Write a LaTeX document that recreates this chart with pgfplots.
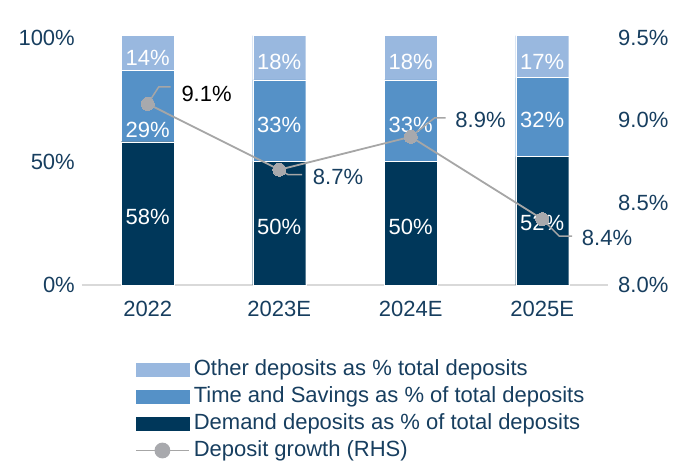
\documentclass[border=0pt]{standalone}
\usepackage{pgfplots}
\pgfplotsset{compat=1.18}
\usepackage{fontspec}
\setmainfont{Liberation Sans}

\definecolor{demand}{HTML}{00375A}
\definecolor{timesav}{HTML}{5591C7}
\definecolor{otherdep}{HTML}{99B8DF}
\definecolor{growth}{HTML}{A6A6A6}
\definecolor{growthmark}{HTML}{A8A9AD}
\definecolor{navy}{HTML}{173E5F}
\definecolor{axisgray}{HTML}{D9D9D9}

\newcommand{\chartfont}{\fontsize{22}{26}\selectfont}

\pgfplotsset{
  chartbase/.style={
    scale only axis, width=526pt, height=247pt,
    xmin=-0.5, xmax=3.5,
    axis line style={draw=none},
    major tick length=0pt, minor tick num=0,
    tick label style={font=\chartfont, text=navy, inner sep=0pt},
    /pgf/number format/assume math mode=true,
    clip=false,
  },
}
\tikzset{
  barlabel/.style={text=white, font=\chartfont, inner sep=0pt},
  linelabel/.style={font=\chartfont, text=navy, inner sep=0pt},
}

\begin{document}
\begin{tikzpicture}
\useasboundingbox (-82pt,-180pt) rectangle (607pt,285pt);

% stacked shares of total deposits (left axis)
\begin{axis}[chartbase,
  ybar stacked, bar width=53pt,
  ymin=0, ymax=100,
  xtick={0,1,2,3}, xticklabels={2022,2023E,2024E,2025E},
  xticklabel style={anchor=north, yshift=-16pt},
  ytick={0,50,100}, yticklabels={0\%,50\%,100\%},
  ytick pos=left,
  yticklabel style={anchor=east, xshift=-7pt},
]
\addplot[fill=demand, draw=white, line width=0.4pt]
  coordinates {(0,58) (1,50) (2,50) (3,52)};
\addplot[fill=timesav, draw=white, line width=0.4pt]
  coordinates {(0,29) (1,33) (2,33) (3,32)};
\addplot[fill=otherdep, draw=white, line width=0.4pt]
  coordinates {(0,14) (1,18) (2,18) (3,17)};

\draw[axisgray, line width=1.5pt] (axis cs:-0.5,0) -- (axis cs:3.5,0);
\end{axis}

% share labels inside the bar segments (same scale as the left axis)
\begin{axis}[chartbase, ymin=0, ymax=100, hide axis]
\node[barlabel] at (axis cs:0,27.5) {58\%};
\node[barlabel] at (axis cs:0,62.8) {29\%};
\node[barlabel] at (axis cs:0,92)   {14\%};
\node[barlabel] at (axis cs:1,23.5) {50\%};
\node[barlabel] at (axis cs:1,65)   {33\%};
\node[barlabel] at (axis cs:1,90.5) {18\%};
\node[barlabel] at (axis cs:2,23.5) {50\%};
\node[barlabel] at (axis cs:2,65)   {33\%};
\node[barlabel] at (axis cs:2,90.5) {18\%};
\node[barlabel] at (axis cs:3,25)   {52\%};
\node[barlabel] at (axis cs:3,67)   {32\%};
\node[barlabel] at (axis cs:3,90.5) {17\%};
\end{axis}

% deposit growth (right axis)
\begin{axis}[chartbase,
  ymin=8, ymax=9.5,
  xtick=\empty,
  ytick={8,8.5,9,9.5}, yticklabels={8.0\%,8.5\%,9.0\%,9.5\%},
  ytick pos=right, yticklabel pos=right,
  yticklabel style={anchor=west, xshift=10pt},
  legend cell align=left,
  legend style={
    at={(axis description cs:0.1008,-0.2996)}, anchor=north west,
    draw=none, fill=none, inner sep=0pt, outer sep=0pt,
    row sep=6pt, column sep=4pt,
    font=\chartfont, text=navy,
    nodes={inner sep=0pt, text height=16pt, text depth=5pt},
  },
]
\addlegendimage{legend image code/.code={\fill[otherdep] (0pt,-6.5pt) rectangle (53pt,6.5pt);}}
\addlegendentry{Other deposits as \% total deposits}
\addlegendimage{legend image code/.code={\fill[timesav] (0pt,-6.5pt) rectangle (53pt,6.5pt);}}
\addlegendentry{Time and Savings as \% of total deposits}
\addlegendimage{legend image code/.code={\fill[demand] (0pt,-6.5pt) rectangle (53pt,6.5pt);}}
\addlegendentry{Demand deposits as \% of total deposits}

% leader lines to the value labels
\draw[growth, line width=1.5pt] (axis cs:0,9.1) -- ++(11pt,17pt) -- ++(12pt,0pt)
  node[linelabel, anchor=north west, xshift=10pt, yshift=1pt, text=black] {9.1\%};
\draw[growth, line width=1.5pt] (axis cs:1,8.7) -- ++(9pt,-5pt) -- ++(14pt,0pt)
  node[linelabel, anchor=west, xshift=10pt, yshift=-2pt] {8.7\%};
\draw[growth, line width=1.5pt] (axis cs:2,8.9) -- ++(24pt,19pt) -- ++(11pt,0pt)
  node[linelabel, anchor=west, xshift=9pt, yshift=-2pt] {8.9\%};
\draw[growth, line width=1.5pt] (axis cs:3,8.4) -- ++(17pt,-17pt) -- ++(13pt,0pt)
  node[linelabel, anchor=west, xshift=9pt, yshift=-1.5pt] {8.4\%};

\addplot[growth, line width=1.8pt, mark=*, mark size=6.5pt,
  mark options={fill=growthmark, draw=growthmark, line width=0pt},
  legend image code/.code={
    \draw[growth, line width=1.8pt] (0pt,0pt) -- (53pt,0pt);
    \fill[growthmark] (26.5pt,0pt) circle (7pt);}]
  coordinates {(0,9.1) (1,8.7) (2,8.9) (3,8.4)};
\addlegendentry{Deposit growth (RHS)}
\end{axis}
\end{tikzpicture}
\end{document}
